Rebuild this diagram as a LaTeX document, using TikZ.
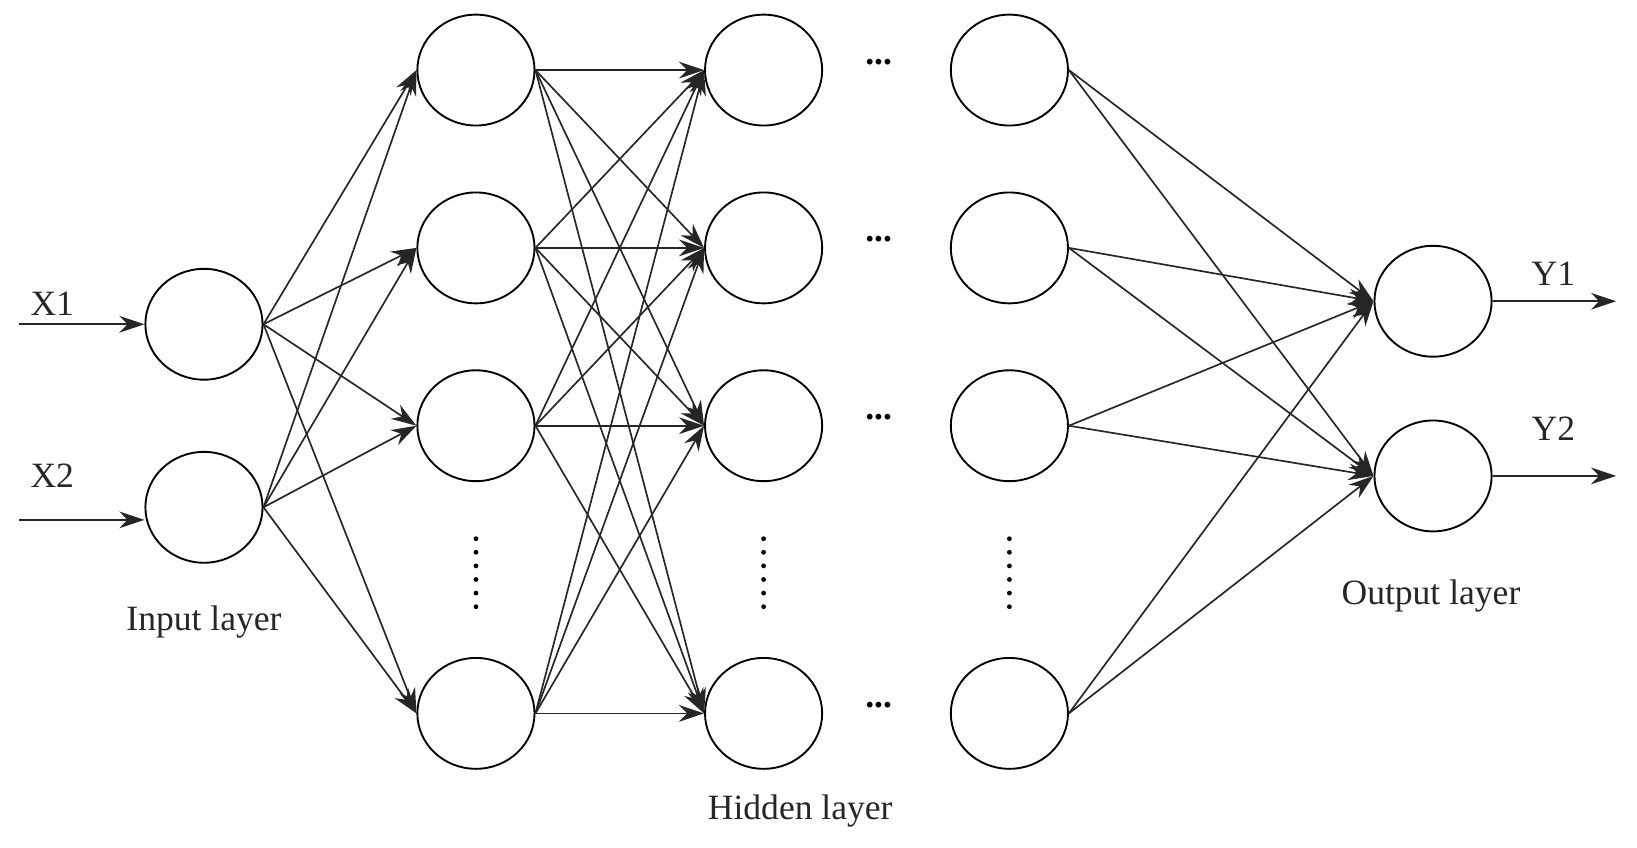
\documentclass[tikz,border=0pt]{standalone}
\usepackage{fontspec}
\setmainfont{Liberation Serif}
\usetikzlibrary{shapes.geometric,arrows.meta}
\begin{document}
\begin{tikzpicture}[x=1pt,y=-1pt,
  neu/.style={draw=black,line width=1.8pt,ellipse,minimum width=112pt,minimum height=106pt,inner sep=0pt},
  con/.style={draw=black!85,line width=1.6pt,-{Stealth[length=24pt,width=16pt]}},
  lbl/.style={font=\fontsize{34}{40}\selectfont,text=black!85},
  dots/.style={font=\fontsize{34}{40}\selectfont\bfseries}]
\useasboundingbox (0,0) rectangle (1565,810);
\node[neu] (i1) at (195,310) {};
\node[neu] (i2) at (195,485) {};
\foreach \n/\y in {1/67,2/237,3/407,4/682}{
  \node[neu] (a\n) at (455,\y) {};
  \node[neu] (b\n) at (730,\y) {};
  \node[neu] (c\n) at (965,\y) {};
  \node[dots] (h\n) at (840,\y-8) {...};
}
\node[neu] (o1) at (1370,288) {};
\node[neu] (o2) at (1370,455) {};
\foreach \x in {455,730,965}{
  \foreach \k in {0,1,2,3,4,5}{\fill (\x,515+\k*13) circle (2.3pt);}
}
\coordinate (x1s) at (18,310);
\coordinate (x2s) at (18,497);
\coordinate (y1e) at (1545,288);
\coordinate (y2e) at (1545,455);
\draw[con] (x1s) -- (i1.west);
\draw[con] (x2s) -- (x2s -| i2.west);
\draw[con] (o1.east) -- (y1e);
\draw[con] (o2.east) -- (y2e);
\foreach \s in {i1,i2}{\foreach \t in {a1,a2,a3,a4}{\draw[con] (\s.east) -- (\t.west);}}
\foreach \s in {a1,a2,a3,a4}{\foreach \t in {b1,b2,b3,b4}{\draw[con] (\s.east) -- (\t.west);}}
\foreach \s in {c1,c2,c3,c4}{\foreach \t in {o1,o2}{\draw[con] (\s.east) -- (\t.west);}}
\node[lbl] (lx1) at (50,290) {X1};
\node[lbl] (lx2) at (50,455) {X2};
\node[lbl] (ly1) at (1485,262) {Y1};
\node[lbl] (ly2) at (1485,410) {Y2};
\node[lbl] (li) at (195,595) {Input layer};
\node[lbl] (lh) at (765,775) {Hidden layer};
\node[lbl] (lo) at (1368,570) {Output layer};
\end{tikzpicture}
\end{document}
